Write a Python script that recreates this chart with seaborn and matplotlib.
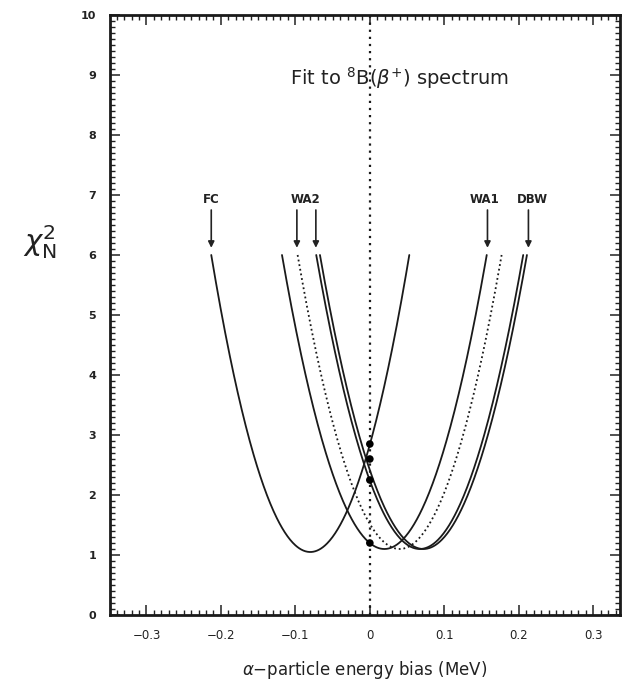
import numpy as np
import pandas as pd
import matplotlib
matplotlib.use('Agg')
import matplotlib.pyplot as plt
import seaborn as sns
from matplotlib.ticker import MultipleLocator

sns.set_theme(style='ticks')
plt.rcParams['font.family'] = ['DejaVu Sans']

# ---- data ----
# each chi^2 curve: left end (chi2=6), minimum, right end (chi2=6)
curve_names = ['FC', 'A', 'B', 'C1', 'C2']
x_left = [-0.213, -0.118, -0.097, -0.072, -0.067]
x_min = [-0.080, 0.0195, 0.040, 0.067, 0.072]
chi2_min = [1.05, 1.10, 1.10, 1.10, 1.10]
x_right = [0.053, 0.157, 0.177, 0.206, 0.211]
chi2_end = [6.0, 6.0, 6.0, 6.0, 6.0]
curve_styles = ['-', '-', (0, (1, 1.6)), '-', '-']

# markers on the x=0 line
dot_y = [2.85, 2.6, 2.25, 1.2]

# arrows and labels
arrow_x = [-0.213, -0.098, -0.0725, 0.158, 0.213]
label_names = ['FC', 'WA2', 'WA1', 'DBW']
label_x = [-0.213, -0.086, 0.154, 0.219]

x_ticks = [-0.3, -0.2, -0.1, 0, 0.1, 0.2, 0.3]
x_tick_labels = ['\u22120.3', '\u22120.2', '\u22120.1', '0', '0.1', '0.2', '0.3']
y_ticks = list(range(0, 11))

# ---- figure ----
fig = plt.figure(figsize=(6.23, 6.86), dpi=100)
ax = fig.add_axes([110 / 623, 1 - 615 / 686, 510 / 623, 600 / 686])

rows = []
for name, xl, xm, cm, xr, ce in zip(curve_names, x_left, x_min, chi2_min, x_right, chi2_end):
    coef = np.polyfit([xl, xm, xr], [ce, cm, ce], 2)
    xs = np.linspace(xl, xr, 300)
    rows.append(pd.DataFrame({'curve': name, 'x': xs, 'chi2': np.polyval(coef, xs)}))
df = pd.concat(rows, ignore_index=True)

for name, ls in zip(curve_names, curve_styles):
    sub = df[df['curve'] == name]
    sns.lineplot(data=sub, x='x', y='chi2', ax=ax, color='#1a1a1a',
                 linestyle=ls, lw=1.3, sort=False, estimator=None)

# vertical dotted line at zero
ax.axvline(0, color='#1a1a1a', lw=1.6, linestyle=(0, (1, 2.2)))
sns.scatterplot(x=[0] * len(dot_y), y=dot_y, ax=ax, color='black', s=30,
                edgecolor='none', zorder=5)

for xa in arrow_x:
    ax.annotate('', xy=(xa, 6.12), xytext=(xa, 6.75),
                arrowprops=dict(arrowstyle='-|>', color='#222222', lw=1.2,
                                mutation_scale=9, shrinkA=0, shrinkB=0))
for name, xl in zip(label_names, label_x):
    ax.text(xl, 6.93, name, ha='center', va='center', fontsize=8.5,
            fontweight='bold', color='#222222')

ax.text(0.04, 8.95, r'Fit to $^{8}$B($\beta^{+}$) spectrum', ha='center',
        va='center', fontsize=14, color='#222222')

ax.set_xlim(-0.349, 0.336)
ax.set_ylim(0, 10)
ax.set_xticks(x_ticks)
ax.set_xticklabels(x_tick_labels, fontsize=8.5)
ax.set_yticks(y_ticks)
ax.set_yticklabels([str(v) for v in y_ticks], fontsize=8, fontweight='bold')
ax.xaxis.set_minor_locator(MultipleLocator(0.01))
ax.yaxis.set_minor_locator(MultipleLocator(0.1))
ax.tick_params(which='major', direction='in', length=7, width=1.1,
               top=True, right=True, colors='#222222', pad=10)
ax.tick_params(which='minor', direction='in', length=3.5, width=1.0,
               top=True, right=True, colors='#222222')
for s in ax.spines.values():
    s.set_linewidth(2)
    s.set_color('#1a1a1a')

ax.set_xlabel('$\\alpha$\u2212particle energy bias (MeV)', fontsize=12,
              color='#222222', labelpad=12)
ax.set_ylabel('')
fig.text(40 / 623, 1 - 242 / 686, r'$\chi^{2}_{\rm N}$', fontsize=21,
         ha='center', va='center', color='#222222')

fig.savefig('out.png', dpi=100)
